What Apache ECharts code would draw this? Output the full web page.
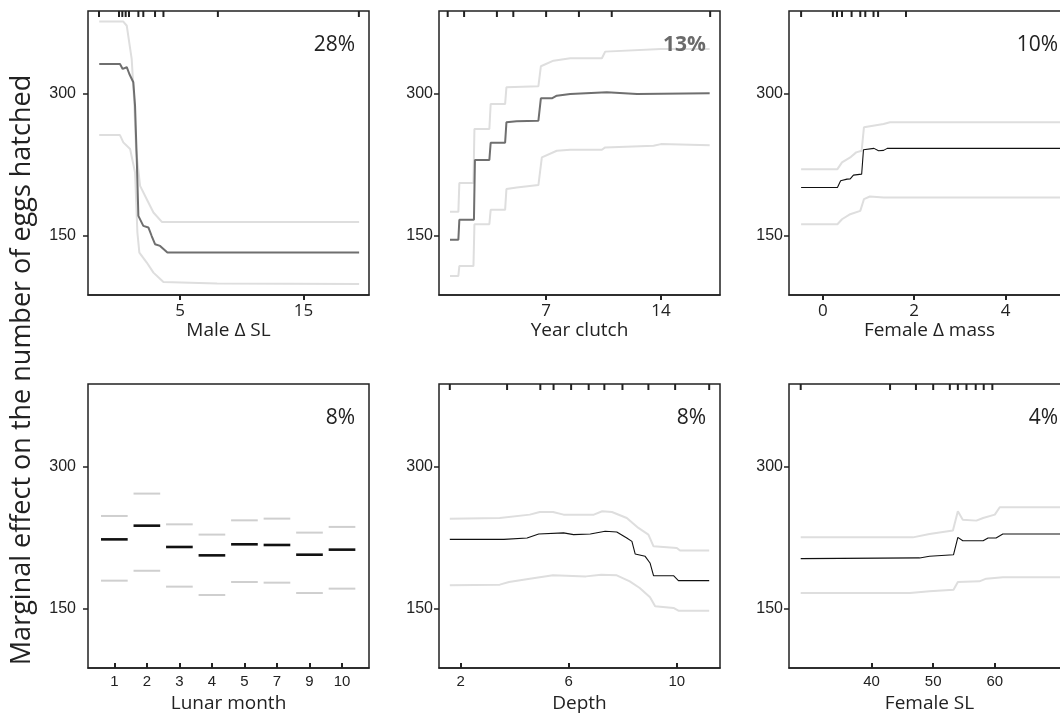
<!DOCTYPE html>
<html lang="en">
<head>
<meta charset="UTF-8">
<title>Marginal effects on eggs hatched</title>
<script src="https://cdn.jsdelivr.net/npm/echarts@6/dist/echarts.min.js"></script>
<style>
  html, body { margin: 0; padding: 0; overflow: hidden; background: #fff; }
  #main { width: 1080px; height: 719px; }
</style>
</head>
<body>
<div id="main"></div>
<script>
// values
var yTicks = [150, 300];

// Male delta SL
var maleSLMean = [[-1.55,330.8],[0.13,330.8],[0.35,325.6],[0.68,327.4],[0.89,320.3],[1.21,311.6],[1.35,287],[1.49,231],[1.62,171.2],[2.02,160.7],[2.43,159],[2.7,150],[2.97,141.4],[3.38,139.6],[3.97,132.6],[19.5,132.6]];
var maleSLUpper = [[-1.55,375.4],[0.4,375.4],[0.68,371],[1.08,336],[1.27,294],[1.43,241.4],[1.76,202.7],[2.3,188.7],[2.84,174.7],[3.52,164.8],[19.5,164.8]];
var maleSLLower = [[-1.55,256.1],[0.13,256.1],[0.4,248.4],[0.95,241.4],[1.35,216.8],[1.54,153.7],[1.7,132.6],[2.3,122.1],[2.84,111.5],[3.65,101.7],[8,100],[19.5,99.5]];
var maleSLRug = [-1.57, 0.05, 0.32, 0.59, 0.86, 1.62, 2.02, 2.97, 3.65, 8.06, 19.48];

// Year clutch
var yearMean = [[1.14,146],[1.65,146],[1.71,167],[2.6,167],[2.66,230],[3.54,230],[3.62,248],[4.5,248],[4.58,269.5],[5.2,270.5],[6.53,271.2],[6.68,294.7],[7.35,294.7],[7.65,297.5],[8.47,299.3],[10.7,301],[12.54,299.3],[16.97,300]];
var yearUpper = [[1.14,175.4],[1.65,175.4],[1.71,205.6],[2.57,205.6],[2.63,262.4],[3.54,262.4],[3.62,288.7],[4.5,288.7],[4.58,306.3],[6.53,307.5],[6.68,328.4],[7.45,334.3],[8.47,336.8],[10.4,336.8],[10.6,343.8],[14,346.6],[16.97,346.6]];
var yearLower = [[1.14,108],[1.65,108],[1.71,118.5],[2.57,118.5],[2.63,162.4],[3.54,162.4],[3.62,177.5],[4.5,177.5],[4.58,199.3],[5.21,201],[6.53,203.5],[6.74,232.6],[7.65,239.6],[8.47,240.6],[10.4,240.6],[10.6,243.1],[13.55,244.8],[14,246.6],[16.97,245.5]];
var yearRug = [1, 2, 4, 5, 7, 9, 11, 17];

// Female delta mass
var massMean = [[-0.475,201],[0.32,201],[0.39,208],[0.53,209.8],[0.6,210],[0.67,214],[0.85,215],[0.89,240.6],[1.12,242.1],[1.22,239.6],[1.33,240],[1.41,242.1],[5.2,242.1]];
var massUpper = [[-0.475,220.3],[0.32,220.3],[0.42,227.4],[0.6,232.6],[0.73,237.9],[0.85,239.6],[0.9,264.2],[1.33,267.7],[1.47,269.5],[5.2,269.5]];
var massLower = [[-0.475,162.4],[0.32,162.4],[0.42,167.6],[0.6,172.9],[0.82,176.4],[0.9,188.7],[1.03,191.5],[1.33,190.5],[5.2,190.5]];
var massRug = [-0.475, 0.22, 0.31, 0.42, 0.63, 0.82, 0.93, 1.11, 1.21, 1.82];

// Lunar month (categorical)
var lunarMonths = ['1', '2', '3', '4', '5', '7', '9', '10'];
var lunarMean = [223.2, 237.6, 215.2, 206.4, 218, 217.3, 207.1, 212.4];
var lunarUpper = [247.8, 271.3, 239, 228.2, 243.2, 245, 230.3, 236.3];
var lunarLower = [179.8, 190.2, 173.5, 164.7, 178.4, 177.7, 166.8, 171.4];

// Depth
var depthMean = [[1.6,223.2],[3.6,223.2],[4.46,224.7],[4.89,228.9],[5.81,230],[6.18,228.2],[6.8,228.9],[7.35,231.7],[7.78,231],[8.15,224.7],[8.34,221.1],[8.46,207.9],[8.83,205.4],[9.01,198.4],[9.14,185],[9.88,185],[10.06,179.8],[11.2,179.8]];
var depthUpper = [[1.6,245],[3.45,245.7],[4.56,249.2],[4.93,252],[5.42,252],[5.81,249.2],[6.93,249.2],[7.24,252.7],[7.6,252],[8.15,245.7],[8.58,235.2],[8.95,228.2],[9.14,215.9],[10.0,214.2],[10.12,211.4],[11.2,211.4]];
var depthLower = [[1.6,174.9],[3.45,175.6],[3.79,178.4],[4.56,181.9],[5.42,185.4],[6.64,184.3],[7.2,186.1],[7.78,185.4],[8.26,179.1],[8.63,172.1],[9.01,162.3],[9.2,152.8],[9.88,151.1],[10.06,148.3],[11.2,148.3]];
var depthRug = [1.6, 3.72, 4.95, 5.44, 6.09, 6.74, 7.32, 7.99, 8.95, 9.94, 11.2];

// Female SL
var femSLMean = [[28.5,203],[47.8,203.7],[49.4,205.4],[49.7,207.1],[53.3,207.1],[54.0,225.3],[54.8,221.8],[58.1,221.8],[58.9,224.7],[60.2,224.7],[61.3,228.9],[72,228.9]];
var femSLUpper = [[28.5,225.3],[46.7,225.3],[49.4,228.9],[53.2,232.4],[54.0,252.7],[54.8,243.9],[57.0,242.9],[58.1,245.7],[60,249.2],[60.8,256.9],[72,256.9]];
var femSLLower = [[28.5,166.8],[46.2,166.8],[49.4,168.6],[53.3,170.3],[54.0,178.4],[57.5,179.1],[58.6,181.9],[61.3,183.3],[72,183.3]];
var femSLRug = [28.5, 43.0, 47.2, 50.0, 52.7, 54.0, 55.4, 56.9, 58.2, 59.6];

var xTitles = ['Male \u0394 SL', 'Year clutch', 'Female \u0394 mass', 'Lunar month', 'Depth', 'Female SL'];
var xTickValues = [[5, 15], [7, 14], [0, 2, 4], [0, 1, 2, 3, 4, 5, 6, 7], [2, 6, 10], [40, 50, 60]];
var percents = ['28%', '13%', '10%', '8%', '8%', '4%'];

// layout
var lefts = [88, 439, 789];
var tops = [11, 384];
var panelW = 281, panelH = 284;
var xRanges = [[-2.46, 20.3], [0.47, 17.6], [-0.74, 5.41], [-0.81, 7.83], [1.2, 11.6], [26.6, 72.2]];
var yRange = [88, 386.5];
var frameColor = '#222';
var bandColor = '#dedede';

var panels = [
  { mean: maleSLMean, upper: maleSLUpper, lower: maleSLLower, rug: maleSLRug, meanColor: '#6f6f6f', meanWidth: 2 },
  { mean: yearMean, upper: yearUpper, lower: yearLower, rug: yearRug, meanColor: '#6f6f6f', meanWidth: 2 },
  { mean: massMean, upper: massUpper, lower: massLower, rug: massRug, meanColor: '#111', meanWidth: 1.1 },
  null,
  { mean: depthMean, upper: depthUpper, lower: depthLower, rug: depthRug, meanColor: '#111', meanWidth: 1.1 },
  { mean: femSLMean, upper: femSLUpper, lower: femSLLower, rug: femSLRug, meanColor: '#111', meanWidth: 1.1 }
];

// short vertical stroke hanging from the top of the frame at each observed value
function rugRenderer(params, api) {
  var x = api.coord([api.value(0), api.value(1)])[0];
  var top = params.coordSys.y;
  return {
    type: 'line',
    shape: { x1: x, y1: top, x2: x, y2: top + 6 },
    style: { stroke: frameColor, lineWidth: 2 }
  };
}

var grids = [], xAxes = [], yAxes = [], series = [], graphics = [];

for (var i = 0; i < 6; i++) {
  var col = i % 3, row = Math.floor(i / 3);
  grids.push({
    left: lefts[col], top: tops[row], width: panelW, height: panelH,
    show: true, borderColor: frameColor, borderWidth: 1.5
  });

  var ticks = xTickValues[i];
  xAxes.push({
    type: 'value', gridIndex: i, position: 'bottom',
    min: xRanges[i][0], max: xRanges[i][1],
    axisLine: { show: true, onZero: false, lineStyle: { color: frameColor, width: 1.5 } },
    splitLine: { show: false },
    axisTick: { show: true, inside: row === 1, length: 5, customValues: ticks, lineStyle: { color: frameColor, width: 2 } },
    axisLabel: {
      show: true, customValues: ticks, margin: row === 0 ? 8 : 6,
      color: '#222',
      fontFamily: row === 0 ? 'Open Sans' : 'Liberation Sans',
      fontSize: row === 0 ? 17 : 15,
      formatter: (function (idx) {
        return function (v) { return idx === 3 ? lunarMonths[Math.round(v)] : String(Math.round(v)); };
      })(i)
    },
    name: xTitles[i], nameLocation: 'middle', nameGap: row === 0 ? 24 : 26,
    nameTextStyle: { fontFamily: 'Open Sans', fontSize: 19, color: '#222' }
  });

  yAxes.push({
    type: 'value', gridIndex: i,
    min: yRange[0], max: yRange[1],
    axisLine: { show: false, onZero: false },
    splitLine: { show: false },
    axisTick: { show: true, length: 5, customValues: yTicks, lineStyle: { color: frameColor, width: 1.5 } },
    axisLabel: { customValues: yTicks, margin: col === 0 ? 12 : 6, color: '#222', fontFamily: 'Liberation Sans', fontSize: 16 }
  });

  var p = panels[i];
  if (p) {
    series.push({ type: 'line', xAxisIndex: i, yAxisIndex: i, data: p.upper, showSymbol: false, symbol: 'none', lineStyle: { color: bandColor, width: 2 }, silent: true });
    series.push({ type: 'line', xAxisIndex: i, yAxisIndex: i, data: p.lower, showSymbol: false, symbol: 'none', lineStyle: { color: bandColor, width: 2 }, silent: true });
    series.push({ type: 'line', xAxisIndex: i, yAxisIndex: i, data: p.mean, showSymbol: false, symbol: 'none', lineStyle: { color: p.meanColor, width: p.meanWidth }, silent: true });
    series.push({
      type: 'custom', xAxisIndex: i, yAxisIndex: i, silent: true, clip: false,
      data: p.rug.map(function (v) { return [v, yRange[1]]; }),
      renderItem: rugRenderer
    });
  }
}

// lunar month: short horizontal bars per category
function segRenderer(color, width) {
  return function (params, api) {
    var c = api.coord([api.value(0), api.value(1)]);
    var half = api.size([0.41, 0])[0];
    return {
      type: 'line',
      shape: { x1: c[0] - half, y1: c[1], x2: c[0] + half, y2: c[1] },
      style: { stroke: color, lineWidth: width }
    };
  };
}
function toPairs(arr) { return arr.map(function (v, k) { return [k, v]; }); }
series.push({ type: 'custom', xAxisIndex: 3, yAxisIndex: 3, data: toPairs(lunarUpper), renderItem: segRenderer('#cfcfcf', 2) });
series.push({ type: 'custom', xAxisIndex: 3, yAxisIndex: 3, data: toPairs(lunarLower), renderItem: segRenderer('#cfcfcf', 2) });
series.push({ type: 'custom', xAxisIndex: 3, yAxisIndex: 3, data: toPairs(lunarMean), renderItem: segRenderer('#111', 2.6) });

// percentage labels
var pctRight = [355, 706, 1058];
var pctY = [45, 418];
for (var j = 0; j < 6; j++) {
  graphics.push({
    type: 'text', x: pctRight[j % 3], y: pctY[Math.floor(j / 3)], z: 100,
    style: {
      text: percents[j], align: 'right', verticalAlign: 'middle',
      font: (j === 1 ? 'bold ' : '') + '21px "Open Sans"',
      fill: j === 1 ? '#6a6a6a' : '#222'
    }
  });
}
graphics.push({
  type: 'text', x: 22, y: 370, rotation: Math.PI / 2, z: 100,
  style: {
    text: 'Marginal effect on the number of eggs hatched',
    align: 'center', verticalAlign: 'middle',
    font: '27px "Open Sans"', fill: '#222'
  }
});

var myChart = echarts.init(document.getElementById('main'), null, { renderer: 'canvas' });
myChart.setOption({
  animation: false,
  backgroundColor: '#fff',
  grid: grids,
  xAxis: xAxes,
  yAxis: yAxes,
  series: series,
  graphic: graphics
});
</script>
</body>
</html>
